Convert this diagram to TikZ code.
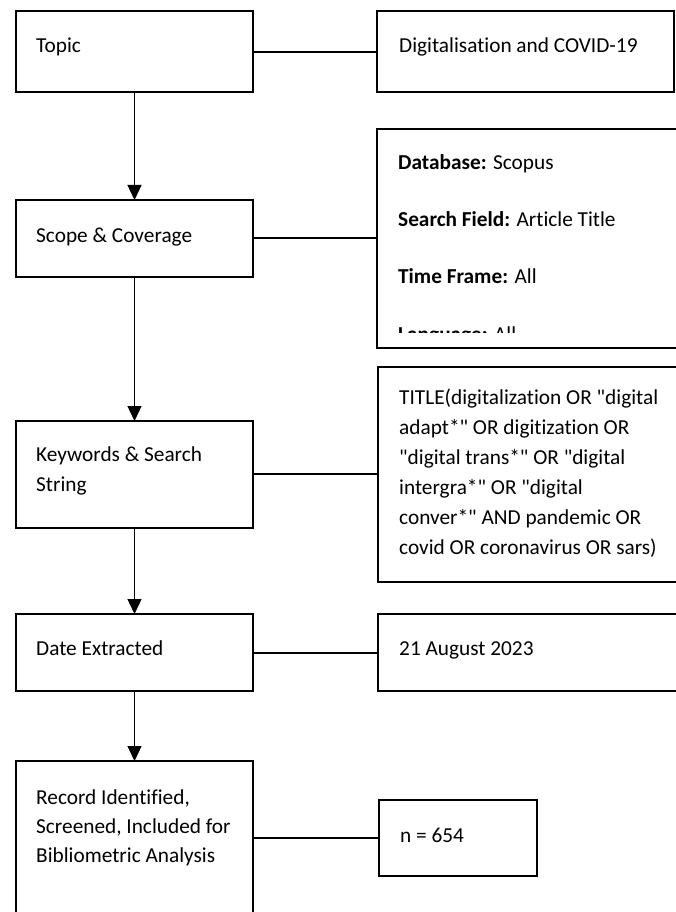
\documentclass[tikz,border=0pt]{standalone}
\usepackage{fontspec}
\setmainfont{Carlito}[Ligatures={TeXOff,CommonOff}]
\usetikzlibrary{arrows.meta}
\begin{document}
\begin{tikzpicture}[x=1pt,y=-1pt,
  box/.style={draw, line width=1.6pt, anchor=north west, inner sep=0pt, outer sep=0pt},
  conn/.style={line width=1.3pt},
  flow/.style={line width=1.3pt, -{Triangle[length=15pt,width=14pt]}},
  txt/.style={anchor=base west, inner sep=0pt, font=\fontsize{21.3}{26}\selectfont}]
\useasboundingbox (0,0) rectangle (675,912);
% left column
\node[box, minimum width=237pt, minimum height=81pt] (topic) at (16,11) {};
\node[box, minimum width=237pt, minimum height=77pt] (scope) at (16,200) {};
\node[box, minimum width=237pt, minimum height=107pt] (kw) at (16,421) {};
\node[box, minimum width=237pt, minimum height=77pt] (date) at (16,614) {};
\node[box, minimum width=237pt, minimum height=153pt] (rec) at (16,761) {};
% right column
\node[box, minimum width=297pt, minimum height=81pt] (r1) at (377,11) {};
\node[box, minimum width=310pt, minimum height=219pt] (r2) at (377,129) {};
\node[box, minimum width=310pt, minimum height=215pt] (r3) at (378,367) {};
\node[box, minimum width=310pt, minimum height=77pt] (r4) at (378,614) {};
\node[box, minimum width=158pt, minimum height=76pt] (r5) at (379,800) {};
% texts
\node[txt] (ttopic) at (36,53) {Topic};
\node[txt] (tscope) at (36,242) {Scope \& Coverage};
\node[txt] (tkw) at (36,461) {\parbox[t]{230pt}{\fontsize{21.3}{30}\selectfont Keywords \& Search\\String}};
\node[txt] (tdate) at (36,655) {Date Extracted};
\node[txt] (trec) at (36,804) {\parbox[t]{230pt}{\fontsize{21.3}{29}\selectfont Record Identified,\\Screened, Included for\\Bibliometric Analysis}};
\node[txt] (tr1) at (399,53) {Digitalisation and COVID-19};
\node[txt] (tr2) at (398,170) {\parbox[t]{290pt}{\fontsize{21.3}{57}\selectfont \textbf{Database:} Scopus\\\textbf{Search Field:} Article Title\\\textbf{Time Frame:} All}};
\begin{scope}
\clip (377,129) rectangle (690,332);
\node[txt] (tr2b) at (398,341) {\textbf{Language:} All};
\end{scope}
\node[txt] (tr3) at (399,404) {\parbox[t]{290pt}{\fontsize{21.3}{30}\selectfont TITLE(digitalization OR "digital\\adapt*" OR digitization OR\\"digital trans*" OR "digital\\intergra*" OR "digital\\conver*" AND pandemic OR\\covid OR coronavirus OR sars)}};
\node[txt] (tr4) at (399,655) {21 August 2023};
\node[txt] (tr5) at (400,842) {n = 654};
% horizontal connectors
\draw[conn] (topic.east |- 0,52) -- (r1.west |- 0,52);
\draw[conn] (scope.east |- 0,238) -- (r2.west |- 0,238);
\draw[conn] (kw.east |- 0,474) -- (r3.west |- 0,474);
\draw[conn] (date.east |- 0,653) -- (r4.west |- 0,653);
\draw[conn] (rec.east |- 0,838) -- (r5.west |- 0,838);
% vertical arrows
\draw[flow] (topic.south) -- (scope.north);
\draw[flow] (scope.south) -- (kw.north);
\draw[flow] (kw.south) -- (date.north);
\draw[flow] (date.south) -- (rec.north);
\end{tikzpicture}
\end{document}
